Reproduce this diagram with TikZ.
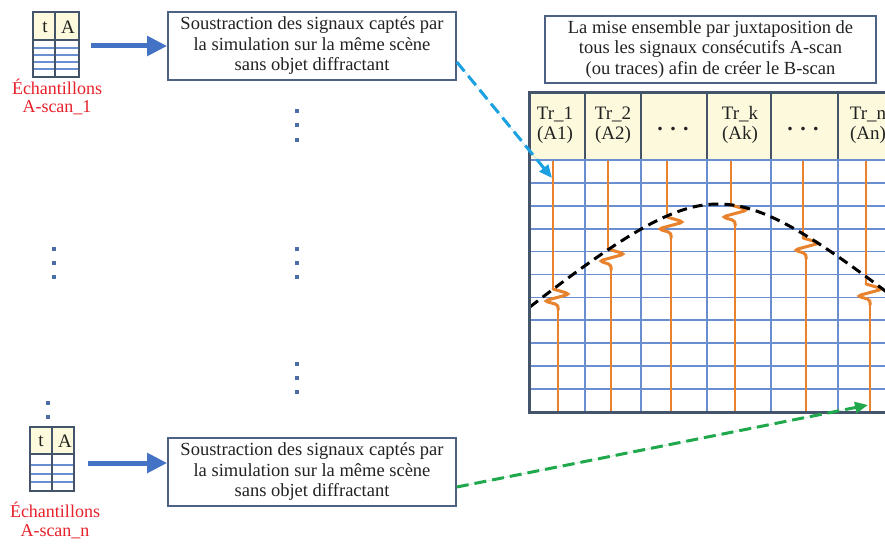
\documentclass[tikz,border=0pt]{standalone}
\usepackage{fontspec}
\setmainfont{Liberation Serif}
\usetikzlibrary{arrows.meta,calc}
\definecolor{framec}{HTML}{44546A}
\definecolor{gridc}{HTML}{6A8ECF}
\definecolor{hdr}{HTML}{FCF9DC}
\definecolor{orng}{HTML}{E8822C}
\definecolor{redt}{HTML}{E8202A}
\definecolor{arrowb}{HTML}{4472C4}
\definecolor{cyanb}{HTML}{1BA1E2}
\definecolor{greena}{HTML}{1FA84C}
\definecolor{boxb}{HTML}{4D6185}
\definecolor{dotc}{HTML}{4A6FA5}
\definecolor{txt}{HTML}{222222}
\begin{document}
\begin{tikzpicture}[x=1pt,y=-1pt,
  textbox/.style={draw=boxb, line width=1.6pt, fill=white, minimum width=288pt,
    minimum height=68pt, align=center, text=txt, inner sep=0pt,
    font=\fontsize{18.5}{20.5}\selectfont},
  tbl/.style={draw=framec, line width=2.2pt, inner sep=0pt},
  lbl/.style={text=redt, font=\fontsize{18}{21}\selectfont, inner sep=0pt},
  hdrtxt/.style={text=txt, align=center, inner sep=0pt, font=\fontsize{19}{20}\selectfont},
  bigarrow/.style={draw=arrowb, line width=5pt, -{Triangle[length=20pt,width=19pt]}},
  dasharrow/.style={line width=3pt, dash pattern=on 12pt off 6pt, -{Triangle[length=13pt,width=11pt]}},
  gridline/.style={draw=gridc, line width=1.7pt},
  tracethin/.style={draw=orng, line width=1.6pt},
  tracewig/.style={draw=orng, line width=3pt, rounded corners=4pt, line cap=round},
  dotsq/.style={fill=dotc}
]
\useasboundingbox (0,0) rectangle (885,543);
\fill[white] (0,0) rectangle (885,543);

% ---------- top table ----------
\fill[hdr] (33,12) rectangle (79,40);
\foreach \yy in {48,55,62,69} \draw[gridline, line width=1.4pt] (33,\yy) -- (79,\yy);
\draw[draw=framec, line width=1.8pt] (33,40) -- (79,40);
\draw[draw=framec, line width=1.8pt] (55,12) -- (55,77);
\node[tbl, minimum width=46pt, minimum height=65pt] (t1) at (56,44.5) {};
\node[hdrtxt] (t1t) at (45,27) {t};
\node[hdrtxt] (t1a) at (68,27) {A};
\node[lbl] (l1a) at (57,87) {Échantillons};
\node[lbl] (l1b) at (57,108) {A-scan\_1};

% ---------- bottom table ----------
\fill[hdr] (30,427) rectangle (74,454);
\foreach \yy in {465,474,482} \draw[gridline, line width=1.4pt] (30,\yy) -- (74,\yy);
\draw[draw=framec, line width=1.8pt] (30,454) -- (74,454);
\draw[draw=framec, line width=1.8pt] (52,427) -- (52,491);
\node[tbl, minimum width=44pt, minimum height=64pt] (t2) at (52,459) {};
\node[hdrtxt] (t2t) at (41,441) {t};
\node[hdrtxt] (t2a) at (65,441) {A};
\node[lbl] (l2a) at (55,510) {Échantillons};
\node[lbl] (l2b) at (55,532) {A-scan\_n};

% ---------- processing boxes ----------
\node[textbox] (b1) at (312,46) {Soustraction des signaux captés par\\la simulation sur la même scène\\sans objet diffractant};
\node[textbox] (b2) at (312,472) {Soustraction des signaux captés par\\la simulation sur la même scène\\sans objet diffractant};
\node[textbox, minimum width=331pt, minimum height=67pt] (b3) at (710.5,49.5) {La mise ensemble par juxtaposition de\\tous les signaux consécutifs A-scan\\(ou traces) afin de créer le B-scan};

\draw[bigarrow] (t1.east |- 0,46) ++(11,0) -- (b1.west |- 0,46);
\draw[bigarrow] (t2.east |- 0,463) ++(13,0) -- (b2.west |- 0,463);

% ---------- vertical ellipses ----------
\foreach \xx/\yy in {297/111,297/125,297/140, 297/249,297/263,297/277, 297/364,297/378,297/392,
                     54/249,54/263,54/277, 48/403,48/417}
  \fill[dotsq] (\xx-1.6,\yy-1.6) rectangle (\xx+1.6,\yy+1.6);

% ---------- B-scan ----------
\begin{scope}
\clip (0,0) rectangle (885,543);
\fill[hdr] (529,92) rectangle (905,160);
\foreach \k in {1,...,10} \draw[gridline] (529,160+\k*22.9) -- (905,160+\k*22.9);
\foreach \xx in {585,641,707,771,838} {
  \draw[gridline] (\xx,160) -- (\xx,412);
  \draw[draw=framec, line width=2.4pt] (\xx,92) -- (\xx,160);
}
\draw[draw=gridc, line width=2.2pt] (529,160) -- (905,160);
% traces
\foreach \xt/\xb/\yw in {553/558/289, 608/611/249, 667/671/217, 731/735/205, 803/806/238, 866/870/284} {
  \draw[tracethin] (\xt,161) -- (\xt,\yw+1);
  \draw[tracewig] (\xt,\yw) -- (\xt+17,\yw+5) -- (\xt-9,\yw+12) -- (\xb+1,\yw+16) -- (\xb,\yw+21);
  \draw[tracethin] (\xb,\yw+20) -- (\xb,411);
}
% hyperbola
\draw[black, line width=3pt, dash pattern=on 10pt off 6pt]
  plot[domain=530:890, samples=90] (\x, {204+85*(sqrt(0.7310+((\x-718)/100)^2)-0.855)});
\draw[draw=framec, line width=3pt] (529,92) rectangle (905,412);
\end{scope}

\node[hdrtxt] (h1) at (555,125) {Tr\_1\\(A1)};
\node[hdrtxt] (h2) at (613,125) {Tr\_2\\(A2)};
\node[hdrtxt, font=\fontsize{22}{20}\bfseries] (h3) at (673,129) {. . .};
\node[hdrtxt] (h4) at (740,125) {Tr\_k\\(Ak)};
\node[hdrtxt, font=\fontsize{22}{20}\bfseries] (h5) at (803,129) {. . .};
\node[hdrtxt] (h6) at (868,125) {Tr\_n\\(An)};

% ---------- dashed connectors ----------
\coordinate (endtop) at (552,178);
\coordinate (endbot) at (868,405);
\draw[dasharrow, draw=cyanb, fill=cyanb] ([yshift=-16pt]b1.east) -- (endtop);
\draw[dasharrow, draw=greena, fill=greena] ([yshift=-15pt]b2.east) -- (endbot);
\end{tikzpicture}
\end{document}
